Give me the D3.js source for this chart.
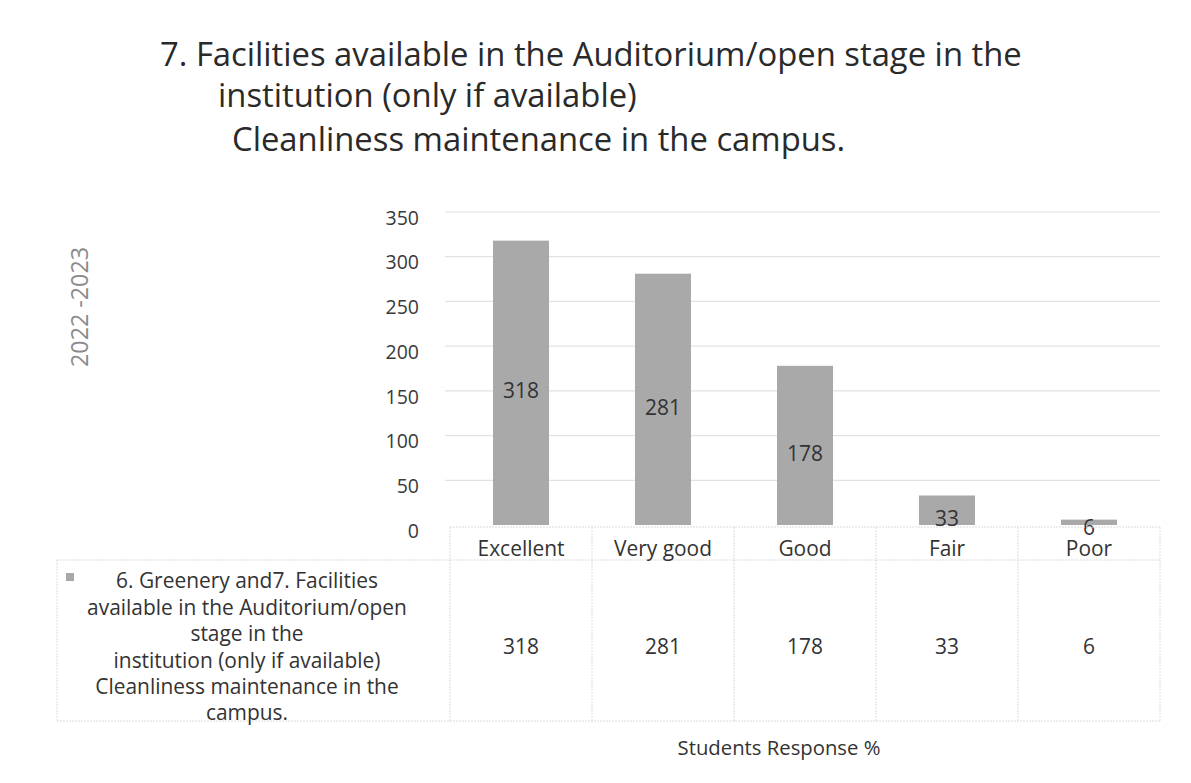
<!DOCTYPE html>
<html><head><meta charset="utf-8">
<script src="https://cdn.jsdelivr.net/npm/d3@7"></script>
<style>body{margin:0;background:#fff}svg{display:block}text{font-family:"Open Sans",sans-serif}</style>
</head><body><svg id="c" width="1191" height="783"></svg>
<script>
const categories = ["Excellent","Very good","Good","Fair","Poor"];
const values = [318,281,178,33,6];
const yTicks = [0,50,100,150,200,250,300,350];
const titleLines = ["7. Facilities available in the Auditorium/open stage in the","institution (only if available)","Cleanliness maintenance in the campus."];
const legendLines = ["6. Greenery and7. Facilities","available in the Auditorium/open","stage in the","institution (only if available)","Cleanliness maintenance in the","campus."];
const yearLabel = "2022 -2023";
const axisTitle = "Students Response %";

const svg = d3.select("#c");
const FONT = '"Open Sans",sans-serif';
function fitSize(text, base, target){
  const t = svg.append("text").attr("font-size",base).style("font-family",FONT).text(text);
  const w = t.node().getComputedTextLength(); t.remove();
  return base*target/w;
}
const titleSize = fitSize(titleLines[0],30,862);
const legendSize = fitSize(legendLines[1],19,320);
const catSize = fitSize("Excellent",19,87);
const axisTitleSize = fitSize(axisTitle,19,203);
const yearSize = fitSize(yearLabel,18,120);
const tickSize = 19.5;

const x = d3.scaleBand().domain(categories).range([450,1160]).paddingInner(0).paddingOuter(0);
const y = d3.scaleLinear().domain([0,350]).range([525,212]);

// gridlines
svg.append("g").selectAll("line").data(yTicks.filter(d=>d>0)).join("line")
  .attr("x1",445).attr("x2",1160).attr("y1",d=>y(d)).attr("y2",d=>y(d))
  .attr("stroke","#e2e2e2").attr("stroke-width",1.2);

// title
const tx=[160,218,232], ty=[55,96,140];
svg.append("g").selectAll("text").data(titleLines).join("text")
  .attr("x",(d,i)=>tx[i]).attr("y",(d,i)=>ty[i]).attr("dy","0.35em")
  .attr("font-size",titleSize).attr("fill","#2a2a2a").text(d=>d);

// year label
svg.append("text").attr("transform","translate(80,307) rotate(-90)").attr("text-anchor","middle")
  .attr("dy","0.35em").attr("font-size",yearSize).attr("fill","#8a8a8a").text(yearLabel);

// y axis labels
const yAxis = d3.axisLeft(y).tickValues(yTicks).tickSize(0).tickPadding(0);
const gy = svg.append("g").attr("transform","translate(419,6)").call(yAxis);
gy.select(".domain").remove();
gy.selectAll("text").attr("font-size",tickSize).attr("fill","#3a3a3a").style("font-family",FONT);

// bars
svg.append("g").selectAll("rect").data(values).join("rect")
  .attr("x",(d,i)=>x(categories[i])+x.bandwidth()/2-28).attr("width",56)
  .attr("y",d=>y(d)).attr("height",d=>y(0)-y(d)).attr("fill","#a9a9a9");

// bar labels
svg.append("g").selectAll("text").data(values).join("text")
  .attr("x",(d,i)=>x(categories[i])+x.bandwidth()/2)
  .attr("y",d=>d<10?y(d)+8:(y(d)+y(0))/2+8).attr("dy","0.35em").attr("text-anchor","middle")
  .attr("font-size",catSize).attr("fill","#333").text(d=>d);

// table
const tg = svg.append("g").attr("stroke","#dcdcdc").attr("stroke-width",1).attr("stroke-dasharray","2,1").attr("fill","none");
tg.append("line").attr("x1",450).attr("x2",1160).attr("y1",527).attr("y2",527);
tg.append("line").attr("x1",57).attr("x2",1160).attr("y1",560).attr("y2",560);
tg.append("line").attr("x1",57).attr("x2",1160).attr("y1",721).attr("y2",721);
tg.append("line").attr("x1",57).attr("x2",57).attr("y1",560).attr("y2",721);
tg.selectAll("line.v").data(categories.concat(["end"])).join("line").attr("class","v")
  .attr("x1",(d,i)=>450+i*x.step()).attr("x2",(d,i)=>450+i*x.step()).attr("y1",527).attr("y2",721);

// category labels
const xAxis = d3.axisBottom(x).tickSize(0).tickPadding(0);
const gx = svg.append("g").attr("transform","translate(0,549)").call(xAxis);
gx.select(".domain").remove();
gx.selectAll("text").attr("dy","0.35em").attr("font-size",catSize).attr("fill","#333").style("font-family",FONT);

// data row
svg.append("g").selectAll("text").data(values).join("text")
  .attr("x",(d,i)=>x(categories[i])+x.bandwidth()/2).attr("y",647).attr("dy","0.35em")
  .attr("text-anchor","middle").attr("font-size",catSize).attr("fill","#333").text(d=>d);

// legend
svg.append("rect").attr("x",66).attr("y",573).attr("width",8).attr("height",8).attr("fill","#a9a9a9");
svg.append("g").selectAll("text").data(legendLines).join("text")
  .attr("x",247).attr("y",(d,i)=>581+i*26.4).attr("dy","0.35em").attr("text-anchor","middle")
  .attr("font-size",legendSize).attr("fill","#333").text(d=>d);

// axis title
svg.append("text").attr("x",779).attr("y",748).attr("dy","0.35em").attr("text-anchor","middle")
  .attr("font-size",axisTitleSize).attr("fill","#333").text(axisTitle);
</script></body></html>
